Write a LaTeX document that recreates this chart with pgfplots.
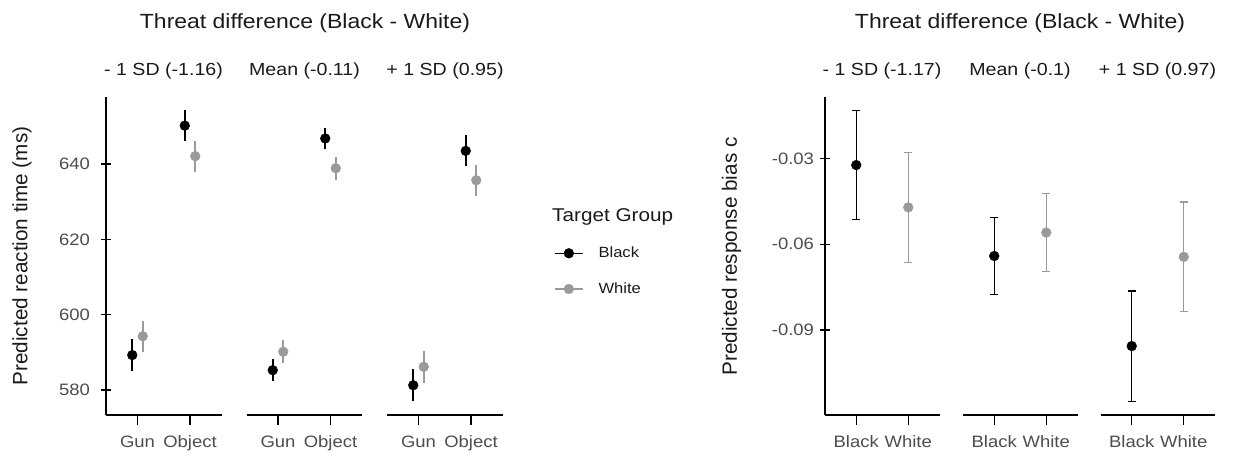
\documentclass[border=0pt]{standalone}
\usepackage{fontspec}
\setmainfont{Liberation Sans}[FakeStretch=1.12]
\newfontfamily\plainsans{Liberation Sans}
\usepackage{pgfplots}
\pgfplotsset{compat=1.18}
\definecolor{pgrey}{HTML}{9A9A9A}
\definecolor{tgrey}{HTML}{4D4D4D}
\definecolor{ttl}{HTML}{1A1A1A}
\pgfplotsset{
  base/.style={scale only axis, height=318pt, xmin=0.4, xmax=2.6, xtick={1,2},
    axis x line=bottom, axis line style={line width=1.4pt, black, -},
    tick style={line width=1.4pt, black}, major tick length=10pt,
    tick align=outside, xtick align=outside, ytick align=outside,
    ticklabel style={font=\fontsize{16.5}{18}\selectfont, text=tgrey},
    xticklabel style={yshift=-7pt},
    /pgf/number format/assume math mode=true, clip=false},
  lpanel/.style={base, width=115.5pt, ymin=573.4, ymax=657.8, xticklabels={Gun,Object}},
  rpanel/.style={base, width=114.5pt, ymin=-0.1197, ymax=-0.0085, xticklabels={Black,White}},
  first/.style={axis y line=left, axis line style={line width=1.4pt, black, -}},
  other/.style={axis y line=none},
  lb/.style={only marks, mark=*, mark size=4.9pt, color=black,
    error bars/y dir=both, error bars/y explicit, error bars/error mark=none,
    error bars/error bar style={line width=2pt, black}},
  lw/.style={only marks, mark=*, mark size=4.9pt, color=pgrey,
    error bars/y dir=both, error bars/y explicit, error bars/error mark=none,
    error bars/error bar style={line width=2pt, pgrey}},
  rb/.style={only marks, mark=*, mark size=4.9pt, color=black,
    error bars/y dir=both, error bars/y explicit, error bars/error mark=-,
    error bars/error mark options={rotate=90, black, line width=1.4pt, mark size=3.8pt},
    error bars/error bar style={line width=1.4pt, black}},
  rw/.style={only marks, mark=*, mark size=4.9pt, color=pgrey,
    error bars/y dir=both, error bars/y explicit, error bars/error mark=-,
    error bars/error mark options={rotate=90, pgrey, line width=1.4pt, mark size=3.8pt},
    error bars/error bar style={line width=1.4pt, pgrey}},
}
\begin{document}
\begin{tikzpicture}[x=1pt,y=1pt]
\path[use as bounding box] (0,0) rectangle (1255,455);
% ---------- left group ----------
\begin{axis}[lpanel, first, at={(106pt,40pt)}, anchor=south west,
  ytick={580,600,620,640}, yticklabels={580,600,620,640},
  yticklabel style={xshift=-7.5pt}]
\addplot[lb] coordinates {(0.9,589.3) +- (0,4.2) (1.9,650.2) +- (0,4.1)};
\addplot[lw] coordinates {(1.1,594.3) +- (0,4.1) (2.1,642.1) +- (0,4.1)};
\end{axis}
\begin{axis}[lpanel, other, at={(246.5pt,40pt)}, anchor=south west]
\addplot[lb] coordinates {(0.9,585.3) +- (0,3.0) (1.9,646.8) +- (0,2.9)};
\addplot[lw] coordinates {(1.1,590.2) +- (0,3.1) (2.1,638.9) +- (0,3.0)};
\end{axis}
\begin{axis}[lpanel, other, at={(387pt,40pt)}, anchor=south west,
  legend style={at={(1.446,0.5347)}, anchor=north west, draw=none, fill=none,
    font=\fontsize{14.8}{17}\selectfont, text=ttl, row sep=19.5pt, inner sep=0pt,
    /tikz/every odd column/.append style={column sep=13pt}},
  legend cell align=left]
\addplot[forget plot, lb] coordinates {(0.9,581.3) +- (0,4.2) (1.9,643.5) +- (0,4.1)};
\addplot[forget plot, lw] coordinates {(1.1,586.2) +- (0,4.2) (2.1,635.7) +- (0,4.1)};
\addlegendimage{legend image code/.code={\draw[black, line width=1.3pt] (0pt,0pt) -- (28pt,0pt); \fill[black] (14pt,0pt) circle (4.9pt);}}
\addlegendentry{Black}
\addlegendimage{legend image code/.code={\draw[pgrey, line width=1.3pt] (0pt,0pt) -- (28pt,0pt); \fill[pgrey] (14pt,0pt) circle (4.9pt);}}
\addlegendentry{White}
\end{axis}
% ---------- right group ----------
\begin{axis}[rpanel, first, at={(825pt,40pt)}, anchor=south west,
  ytick={-0.09,-0.06,-0.03}, yticklabels={-0.09,-0.06,-0.03},
  yticklabel style={xshift=-2.5pt}]
\addplot[rb] coordinates {(1,-0.0323) +- (0,0.0191)};
\addplot[rw] coordinates {(2,-0.0471) +- (0,0.0192)};
\end{axis}
\begin{axis}[rpanel, other, at={(963pt,40pt)}, anchor=south west]
\addplot[rb] coordinates {(1,-0.0641) +- (0,0.0135)};
\addplot[rw] coordinates {(2,-0.0559) +- (0,0.0136)};
\end{axis}
\begin{axis}[rpanel, other, at={(1100.5pt,40pt)}, anchor=south west]
\addplot[rb] coordinates {(1,-0.0956) +- (0,0.0193)};
\addplot[rw] coordinates {(2,-0.0644) +- (0,0.0192)};
\end{axis}
% ---------- text ----------
\begin{scope}[every node/.style={text=ttl, inner sep=0pt}]
\node[font=\fontsize{20.5}{24}\selectfont] at (305,432) {Threat difference (Black - White)};
\node[font=\fontsize{20.5}{24}\selectfont] at (1020,432) {Threat difference (Black - White)};
\node[font=\fontsize{17.5}{20}\selectfont] at (163.5,384.5) {- 1 SD (-1.16)};
\node[font=\fontsize{17.5}{20}\selectfont] at (304.5,384.5) {Mean (-0.11)};
\node[font=\fontsize{17.5}{20}\selectfont] at (445,384.5) {+ 1 SD (0.95)};
\node[font=\fontsize{17.5}{20}\selectfont] at (882,384.5) {- 1 SD (-1.17)};
\node[font=\fontsize{17.5}{20}\selectfont] at (1020,384.5) {Mean (-0.1)};
\node[font=\fontsize{17.5}{20}\selectfont] at (1157.5,384.5) {+ 1 SD (0.97)};
\node[font=\plainsans\fontsize{20.7}{24}\selectfont, rotate=90] at (22,199) {Predicted reaction time (ms)};
\node[font=\plainsans\fontsize{20.7}{24}\selectfont, rotate=90] at (731.5,198.5) {Predicted response bias c};
\node[font=\fontsize{18.5}{22}\selectfont, anchor=west] at (552,238.3) {Target Group};
\end{scope}
\end{tikzpicture}
\end{document}
